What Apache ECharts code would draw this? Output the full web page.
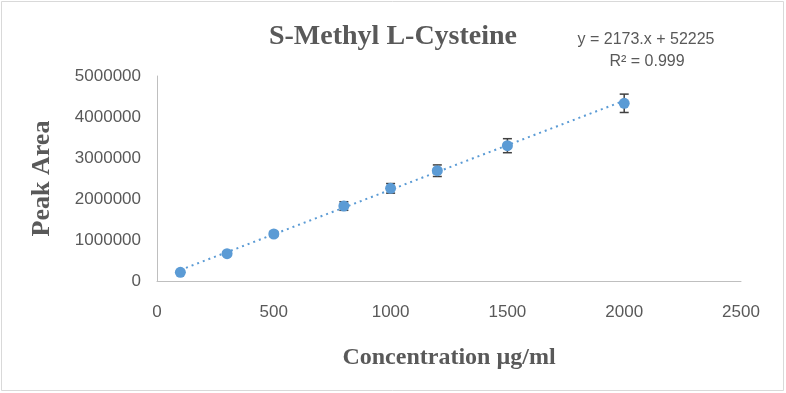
<!DOCTYPE html>
<html>
<head>
<meta charset="utf-8">
<script src="https://cdn.jsdelivr.net/npm/echarts@6/dist/echarts.min.js"></script>
<style>
html,body{margin:0;padding:0;background:#fff;}
#chart{width:786px;height:393px;}
</style>
</head>
<body>
<div id="chart"></div>
<script>
// ---- data ----
var concentrations = [100, 300, 500, 800, 1000, 1200, 1500, 2000];
var peakAreas = [212000, 666000, 1146000, 1829000, 2260000, 2690000, 3300000, 4334000];
var errors = [15000, 35000, 60000, 105000, 117000, 141000, 171000, 224000];
var xTicks = [0, 500, 1000, 1500, 2000, 2500];
var yTicks = [0, 1000000, 2000000, 3000000, 4000000, 5000000];
var slope = 2173;
var intercept = 52225;
var trendRange = [100, 2000];
var titleText = 'S-Methyl L-Cysteine';
var equationText = 'y = 2173.x + 52225';
var r2Text = 'R² = 0.999';
var xName = 'Concentration µg/ml';
var yName = 'Peak Area';

var points = concentrations.map(function (c, i) { return [c, peakAreas[i]]; });
var errData = concentrations.map(function (c, i) { return [c, peakAreas[i] - errors[i], peakAreas[i] + errors[i]]; });
var trendData = trendRange.map(function (x) { return [x, slope * x + intercept]; });

var chart = echarts.init(document.getElementById('chart'));
var labelColor = '#595959';
var sans = '"Liberation Sans", Arial, sans-serif';
var serif = '"Liberation Serif", "Times New Roman", serif';

chart.setOption({
  animation: false,
  backgroundColor: '#fff',
  title: {
    text: titleText,
    left: 'center',
    top: 18,
    textStyle: { fontFamily: serif, fontWeight: 'bold', fontSize: 28, color: labelColor }
  },
  graphic: [
    { type: 'rect', shape: { x: 1.5, y: 1.5, width: 782, height: 389 }, style: { fill: 'none', stroke: '#d9d9d9', lineWidth: 1 }, silent: true },
    { type: 'text', x: 646, y: 40, style: { text: equationText, fontFamily: sans, fontSize: 16, fill: labelColor, textAlign: 'center', textVerticalAlign: 'middle' } },
    { type: 'text', x: 647, y: 62, style: { text: r2Text, fontFamily: sans, fontSize: 16, fill: labelColor, textAlign: 'center', textVerticalAlign: 'middle' } }
  ],
  grid: { left: 157, top: 76, right: 45, bottom: 112, containLabel: false },
  xAxis: {
    type: 'value', min: xTicks[0], max: xTicks[xTicks.length - 1], interval: 500,
    name: xName, nameLocation: 'middle', nameGap: 65,
    nameTextStyle: { fontFamily: serif, fontWeight: 'bold', fontSize: 24, color: labelColor },
    axisLine: { show: true, lineStyle: { color: '#bfbfbf', width: 1 } },
    axisTick: { show: false },
    splitLine: { show: false },
    axisLabel: { margin: 23, fontFamily: sans, fontSize: 17, color: labelColor, formatter: function (v) { return String(v); } }
  },
  yAxis: {
    type: 'value', min: yTicks[0], max: yTicks[yTicks.length - 1], interval: 1000000,
    name: yName, nameLocation: 'middle', nameGap: 102, nameRotate: 90,
    nameTextStyle: { fontFamily: serif, fontWeight: 'bold', fontSize: 26, color: labelColor },
    axisLine: { show: true, lineStyle: { color: '#bfbfbf', width: 1 } },
    axisTick: { show: false },
    splitLine: { show: false },
    axisLabel: { margin: 16, fontFamily: sans, fontSize: 17, color: labelColor, formatter: function (v) { return String(v); } }
  },
  series: [
    {
      type: 'line', data: trendData, symbol: 'none', silent: true, z: 1,
      lineStyle: { color: '#5b9bd5', width: 2, type: [2, 4] }
    },
    {
      type: 'custom', data: errData, z: 2, silent: true,
      renderItem: function (params, api) {
        var x = api.value(0);
        var lo = api.coord([x, api.value(1)]);
        var hi = api.coord([x, api.value(2)]);
        var hw = 4.5;
        var st = { stroke: '#404040', lineWidth: 1.5 };
        return {
          type: 'group',
          children: [
            { type: 'line', shape: { x1: lo[0], y1: lo[1], x2: hi[0], y2: hi[1] }, style: st },
            { type: 'line', shape: { x1: lo[0] - hw, y1: lo[1], x2: lo[0] + hw, y2: lo[1] }, style: st },
            { type: 'line', shape: { x1: hi[0] - hw, y1: hi[1], x2: hi[0] + hw, y2: hi[1] }, style: st }
          ]
        };
      }
    },
    {
      type: 'scatter', data: points, symbol: 'circle', symbolSize: 11, z: 3,
      itemStyle: { color: '#5b9bd5', opacity: 1 }
    }
  ]
});
</script>
</body>
</html>
